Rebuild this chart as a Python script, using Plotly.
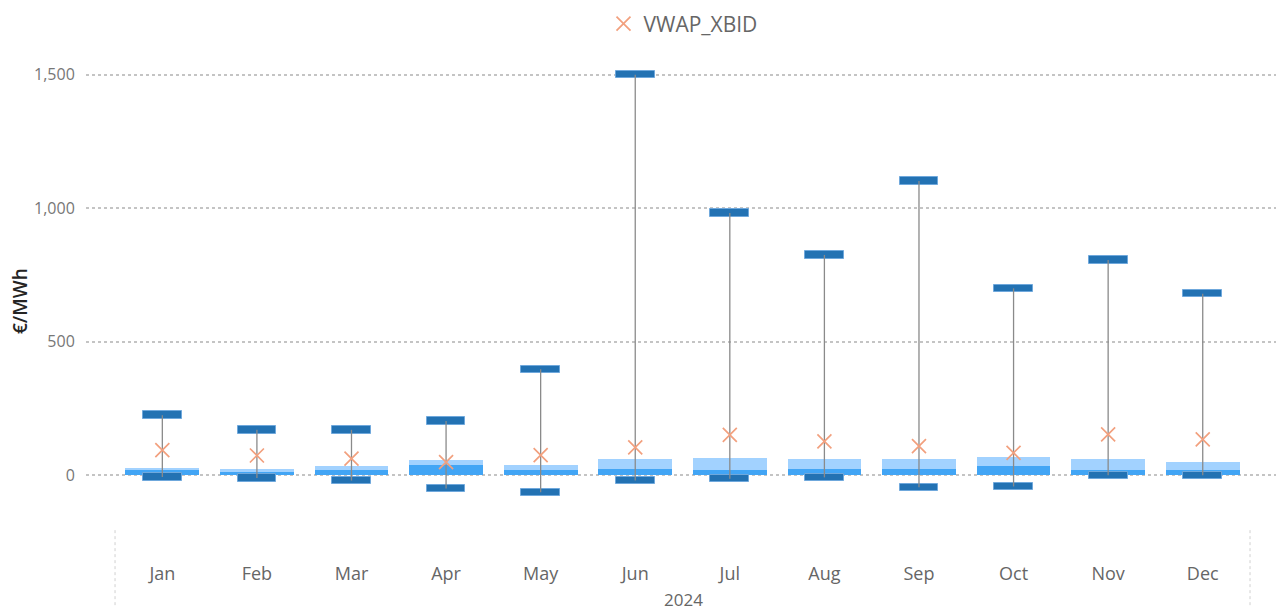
import plotly.graph_objects as go

months = ["Jan", "Feb", "Mar", "Apr", "May", "Jun", "Jul", "Aug", "Sep", "Oct", "Nov", "Dec"]
max_vals = [225, 170, 170, 203, 397, 1500, 982, 825, 1102, 700, 806, 680]
min_vals = [-7, -10, -20, -50, -64, -20, -13, -8, -45, -42, 0, 0]
q1_vals = [2, 2, 2, 2, 2, 2, 2, 2, 2, 2, 2, 2]
median_vals = [19, 12, 19, 40, 21, 24, 21, 24, 25, 34, 21, 21]
q3_vals = [27, 25, 35, 57, 40, 59, 65, 59, 59, 69, 59, 51]
mean_vals = [94, 74, 62, 49, 75, 104, 151, 127, 109, 84, 153, 134]

FONT = "Segoe UI, Open Sans, sans-serif"
DARK = "#2372B3"
MID = "#42A5F5"
LIGHT = "#A2D2FF"
SALMON = "#F2A07E"
CAP_H = 28

x = list(range(len(months)))
fig = go.Figure()

fig.add_trace(go.Bar(x=x, base=q1_vals, y=[m - q for m, q in zip(median_vals, q1_vals)],
                     width=0.78, marker=dict(color=MID, line=dict(width=0)),
                     showlegend=False, hoverinfo="skip"))
fig.add_trace(go.Bar(x=x, base=median_vals, y=[a - b for a, b in zip(q3_vals, median_vals)],
                     width=0.78, marker=dict(color=LIGHT, line=dict(width=0)),
                     showlegend=False, hoverinfo="skip"))

wx, wy = [], []
for i, (lo, hi) in enumerate(zip(min_vals, max_vals)):
    wx += [i, i, None]
    wy += [lo, hi, None]
fig.add_trace(go.Scatter(x=wx, y=wy, mode="lines", line=dict(color="#8a8a8a", width=1.3),
                         showlegend=False, hoverinfo="skip"))

fig.add_trace(go.Bar(x=x, base=[v - CAP_H / 2 for v in max_vals], y=[CAP_H] * len(x),
                     width=0.41, marker=dict(color=DARK, line=dict(color="#6FA8DC", width=1)),
                     showlegend=False, hoverinfo="skip"))
fig.add_trace(go.Bar(x=x, base=[v - CAP_H / 2 for v in min_vals], y=[CAP_H] * len(x),
                     width=0.41, marker=dict(color=DARK, line=dict(color="#6FA8DC", width=1)),
                     showlegend=False, hoverinfo="skip"))

fig.add_trace(go.Scatter(x=x, y=mean_vals, mode="markers", name="VWAP_XBID",
                         marker=dict(symbol="x-thin", size=14, color=SALMON,
                                     line=dict(color=SALMON, width=1.7))))

fig.update_layout(
    width=1284, height=612,
    margin=dict(l=78, r=12, t=40, b=78, autoexpand=False),
    plot_bgcolor="white", paper_bgcolor="white",
    barmode="overlay", bargap=0,
    font=dict(family=FONT, color="#666666"),
    legend=dict(orientation="h", x=0.5, xanchor="center", yref="container", y=0.974,
                yanchor="middle", font=dict(size=21, color="#666666"),
                bgcolor="rgba(0,0,0,0)", itemwidth=30),
    xaxis=dict(range=[-0.807, 11.817], tickmode="array", tickvals=x, ticktext=months,
               showgrid=False, zeroline=False, showline=False, automargin=False,
               ticks="outside", ticklen=15, tickcolor="rgba(0,0,0,0)",
               tickfont=dict(size=18, color="#666666", family=FONT)),
    yaxis=dict(range=[-250, 1600], tickvals=[0, 500, 1000, 1500], tickformat=",",
               showgrid=True, gridcolor="#C4C4C4", griddash="dot", gridwidth=2,
               zeroline=False, showline=False, automargin=False,
               ticks="outside", ticklen=7, tickcolor="rgba(0,0,0,0)",
               tickfont=dict(size=16, color="#777777", family=FONT)),
)

fig.add_annotation(text="€/MWh", xref="paper", yref="paper", x=-0.0548, y=0.487,
                   xanchor="center", yanchor="middle", textangle=-90, showarrow=False,
                   font=dict(size=19, color="#252423", family=FONT, weight=600))

for xv in [-0.5, 11.5]:
    fig.add_shape(type="line", xref="x", yref="paper", x0=xv, x1=xv, y0=0.024, y1=-0.128,
                  line=dict(color="#D0D0D0", width=1, dash="dot"))

fig.add_annotation(text="2024", xref="paper", yref="paper", x=0.5, y=-0.116,
                   yanchor="middle", showarrow=False,
                   font=dict(size=17, color="#666666", family=FONT))

fig.write_html("out.html")
